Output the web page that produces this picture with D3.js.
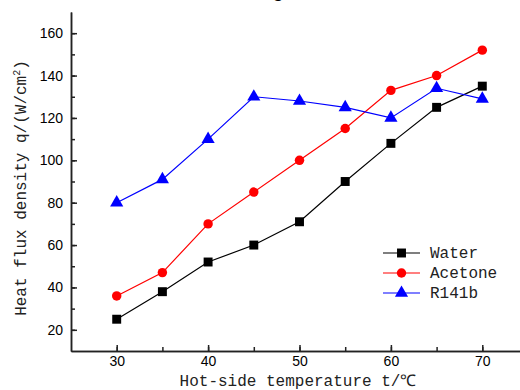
<!DOCTYPE html>
<html>
<head>
<meta charset="utf-8">
<script src="https://cdn.jsdelivr.net/npm/d3@7"></script>
<style>
body { margin: 0; background: #fff; }
text { font-family: "Liberation Sans", Arial, sans-serif; }
.mono { font-family: "Liberation Mono", "DejaVu Sans Mono", monospace; }
</style>
</head>
<body>
<svg id="chart" width="520" height="390"></svg>
<script>
var temps = [30, 35, 40, 45, 50, 55, 60, 65, 70];
var water = [25, 38, 52, 60, 71, 90, 108, 125, 135];
var acetone = [36, 47, 70, 85, 100, 115, 133, 140, 152];
var r141b = [80, 91, 110, 130, 128, 125, 120, 134, 129];
var xTicks = [30, 40, 50, 60, 70];
var yTicks = [20, 40, 60, 80, 100, 120, 140, 160];

var svg = d3.select("#chart");
var plotLeft = 71, plotTop = 12, plotBottom = 351;

var x = d3.scaleLinear().domain([25, 75]).range([plotLeft, plotLeft + 457]);
var y = d3.scaleLinear().domain([10, 170]).range([plotBottom, plotTop]);

// cropped title (only the descender shows)
svg.append("text")
	.attr("x", 278)
	.attr("y", -3)
	.attr("text-anchor", "middle")
	.style("font-size", "20px")
	.text("g");

// axes
var xAxis = svg.append("g").attr("transform", "translate(0," + plotBottom + ")");
xAxis.append("g").call(d3.axisBottom(x).tickValues(d3.range(30, 75, 5)).tickSizeInner(-4).tickSizeOuter(0).tickFormat(""));
xAxis.append("g").call(d3.axisBottom(x).tickValues(xTicks).tickSizeInner(-6).tickSizeOuter(0).tickPadding(5)
	.tickFormat(d3.format("d")));
xAxis.selectAll("text").style("font-size", "14px").style("fill", "#000");
xAxis.selectAll("path,line").style("stroke", "#222").style("stroke-width", 1.5);

var yAxis = svg.append("g").attr("transform", "translate(" + plotLeft + ",0)");
yAxis.append("g").call(d3.axisLeft(y).tickValues(d3.range(20, 170, 10)).tickSizeInner(-4).tickSizeOuter(0).tickFormat(""));
yAxis.append("g").call(d3.axisLeft(y).tickValues(yTicks).tickSizeInner(-6).tickSizeOuter(0).tickPadding(8)
	.tickFormat(d3.format("d")));
yAxis.selectAll("text").style("font-size", "14px").style("fill", "#000");
yAxis.selectAll("path,line").style("stroke", "#222").style("stroke-width", 1.5);

// axis titles
svg.append("text")
	.attr("class", "mono")
	.attr("x", 298)
	.attr("y", 386)
	.attr("text-anchor", "middle")
	.style("font-size", "16px")
	.style("fill", "#222")
	.text("Hot-side temperature t/℃");

var yl = svg.append("text")
	.attr("class", "mono")
	.attr("transform", "translate(26,188) rotate(-90)")
	.attr("text-anchor", "middle")
	.style("font-size", "16px")
	.style("fill", "#222");
yl.append("tspan").text("Heat flux density q/(W/cm");
yl.append("tspan").attr("dy", -6).style("font-size", "10px").text("2");
yl.append("tspan").attr("dy", 6).text(")");

var series = [
	{name: "Water", values: water, color: "#000", shape: d3.symbolSquare, size: 80},
	{name: "Acetone", values: acetone, color: "#ff0000", shape: d3.symbolCircle, size: 70},
	{name: "R141b", values: r141b, color: "#0000ff", shape: d3.symbolTriangle, size: 75}
];

var line = d3.line()
	.x(function(d){ return x(d[0]); })
	.y(function(d){ return y(d[1]); });

series.forEach(function(s){
	var pts = temps.map(function(t, i){ return [t, s.values[i]]; });
	svg.append("path")
		.attr("d", line(pts))
		.attr("fill", "none")
		.attr("stroke", s.color)
		.attr("stroke-width", 1.2);
	svg.append("g")
		.selectAll("path")
		.data(pts)
		.enter()
		.append("path")
		.attr("transform", function(d){ return "translate(" + x(d[0]) + "," + y(d[1]) + ")"; })
		.attr("d", d3.symbol().type(s.shape).size(s.size))
		.attr("fill", s.color);
});

// legend
var legend = svg.append("g").attr("transform", "translate(383,253)");
series.forEach(function(s, i){
	var g = legend.append("g").attr("transform", "translate(0," + (i * 20) + ")");
	g.append("line")
		.attr("x1", 0).attr("x2", 37)
		.attr("y1", 0).attr("y2", 0)
		.attr("stroke", s.color)
		.attr("stroke-width", 1.2);
	g.append("path")
		.attr("transform", "translate(18.5,0)")
		.attr("d", d3.symbol().type(s.shape).size(s.size))
		.attr("fill", s.color);
	g.append("text")
		.attr("class", "mono")
		.attr("x", 47)
		.attr("y", 5)
		.style("font-size", "16px")
		.style("fill", "#222")
		.text(s.name);
});
</script>
</body>
</html>
